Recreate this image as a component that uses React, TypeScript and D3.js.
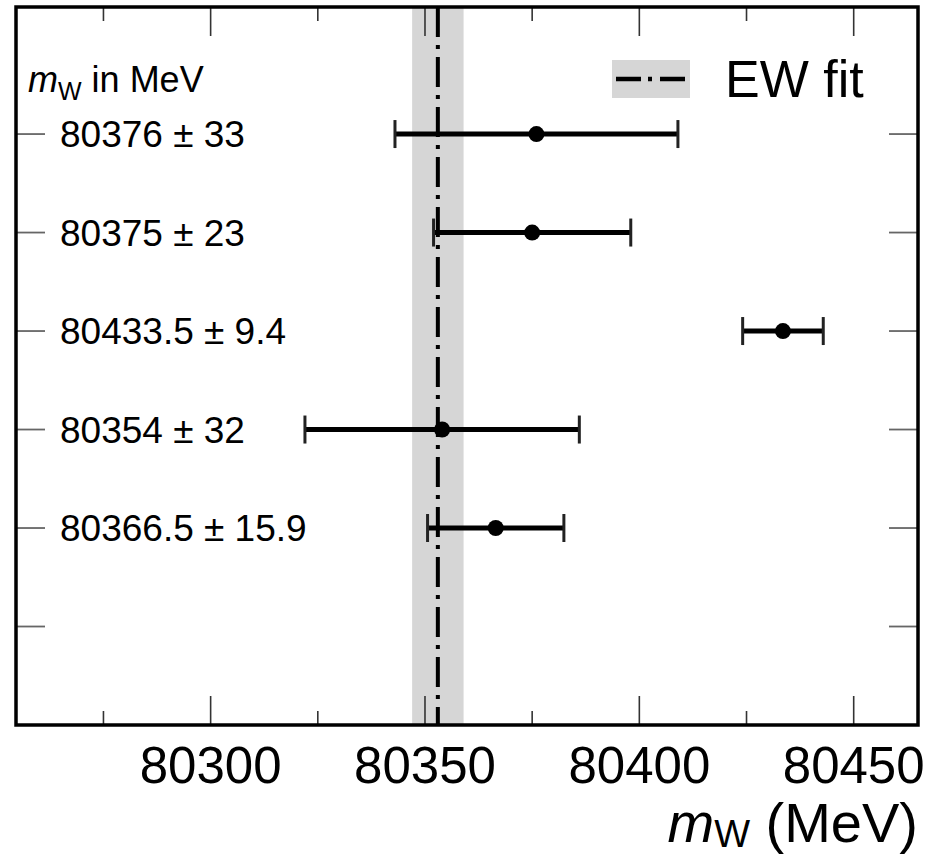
import React, { useEffect, useRef } from 'react';
import * as d3 from 'd3';

// measurements, top row first
const labels = ['80376 ± 33', '80375 ± 23', '80433.5 ± 9.4', '80354 ± 32', '80366.5 ± 15.9'];
const values = [80376, 80375, 80433.5, 80354, 80366.5];
const errors = [33, 23, 9.4, 32, 15.9];
const rows = [6, 5, 4, 3, 2];
const rowTicks = [1, 2, 3, 4, 5, 6];

const ewFit = 80353;
const ewErr = 6;

const majorTicks = [80300, 80350, 80400, 80450];
const minorTicks = [80275, 80325, 80375, 80425];

const FONT = '"Liberation Sans", Arial, Helvetica, sans-serif';

const App: React.FC = () => {
  const ref = useRef<SVGSVGElement>(null);

  useEffect(() => {
    if (!ref.current) return;
    const svg = d3.select(ref.current);
    svg.selectAll('*').remove();

    const left = 16, right = 918, top = 7, bottom = 725;
    const x = d3.scaleLinear().domain([80254.6, 80465]).range([left, right]);
    const y = d3.scaleLinear().domain([0, 7.29]).range([bottom, top]);

    svg.append('rect').attr('width', 933).attr('height', 856).attr('fill', '#fff');

    // EW fit band
    svg.append('rect')
      .attr('x', x(ewFit - ewErr))
      .attr('y', top)
      .attr('width', x(ewFit + ewErr) - x(ewFit - ewErr))
      .attr('height', bottom - top)
      .attr('fill', '#d6d6d6');

    // ticks on all four sides
    const tickG = svg.append('g').attr('stroke', '#333').attr('stroke-width', 1.6);
    majorTicks.forEach(t => {
      tickG.append('line').attr('x1', x(t)).attr('x2', x(t)).attr('y1', bottom).attr('y2', bottom - 29);
      tickG.append('line').attr('x1', x(t)).attr('x2', x(t)).attr('y1', top).attr('y2', top + 29);
    });
    minorTicks.forEach(t => {
      tickG.append('line').attr('x1', x(t)).attr('x2', x(t)).attr('y1', bottom).attr('y2', bottom - 14);
      tickG.append('line').attr('x1', x(t)).attr('x2', x(t)).attr('y1', top).attr('y2', top + 14);
    });
    const yTickG = svg.append('g').attr('stroke', '#666').attr('stroke-width', 1.8);
    rowTicks.forEach(r => {
      yTickG.append('line').attr('x1', left).attr('x2', left + 29).attr('y1', y(r)).attr('y2', y(r));
      yTickG.append('line').attr('x1', right).attr('x2', right - 29).attr('y1', y(r)).attr('y2', y(r));
    });

    // EW fit central value
    svg.append('line')
      .attr('x1', x(ewFit)).attr('x2', x(ewFit))
      .attr('y1', top).attr('y2', bottom)
      .attr('stroke', '#000')
      .attr('stroke-width', 4)
      .attr('stroke-dasharray', '30 8 4 8');

    // error bars
    const bars = svg.append('g');
    values.forEach((v, i) => {
      const yy = y(rows[i]);
      const x0 = x(v - errors[i]);
      const x1 = x(v + errors[i]);
      bars.append('line').attr('x1', x0).attr('x2', x1).attr('y1', yy).attr('y2', yy)
        .attr('stroke', '#000').attr('stroke-width', 5);
      [x0, x1].forEach(cx => {
        bars.append('line').attr('x1', cx).attr('x2', cx).attr('y1', yy - 14).attr('y2', yy + 14)
          .attr('stroke', '#222').attr('stroke-width', 3);
      });
      bars.append('circle').attr('cx', x(v)).attr('cy', yy).attr('r', 8).attr('fill', '#000');
      svg.append('text')
        .attr('x', 60).attr('y', yy).attr('dy', '0.36em')
        .style('font-family', FONT).style('font-size', '37px')
        .text(labels[i]);
    });

    // frame
    svg.append('rect')
      .attr('x', left).attr('y', top)
      .attr('width', right - left).attr('height', bottom - top)
      .attr('fill', 'none').attr('stroke', '#000').attr('stroke-width', 3.5);

    // header label
    const hdr = svg.append('text').attr('x', 28).attr('y', 92)
      .style('font-family', FONT).style('font-size', '36px');
    hdr.append('tspan').style('font-style', 'italic').text('m');
    hdr.append('tspan').attr('dy', 8).style('font-size', '25px').text('W');
    hdr.append('tspan').attr('dy', -8).text(' in MeV');

    // legend
    svg.append('rect').attr('x', 612).attr('y', 60).attr('width', 78).attr('height', 38).attr('fill', '#d6d6d6');
    svg.append('line').attr('x1', 616).attr('x2', 686).attr('y1', 79).attr('y2', 79)
      .attr('stroke', '#000').attr('stroke-width', 4.5).attr('stroke-dasharray', '25 7 4 8');
    svg.append('text').attr('x', 725).attr('y', 97)
      .style('font-family', FONT).style('font-size', '52px').text('EW fit');

    // x tick labels
    majorTicks.forEach(t => {
      svg.append('text').attr('x', x(t)).attr('y', 783)
        .attr('text-anchor', 'middle')
        .style('font-family', FONT).style('font-size', '51px')
        .text(String(t));
    });

    // axis title
    const ttl = svg.append('text').attr('x', right).attr('y', 842).attr('text-anchor', 'end')
      .style('font-family', FONT).style('font-size', '56px');
    ttl.append('tspan').style('font-style', 'italic').text('m');
    ttl.append('tspan').attr('dy', 5).style('font-size', '38px').text('W');
    ttl.append('tspan').attr('dy', -5).text(' (MeV)');
  }, []);

  return (
    <svg ref={ref} width={933} height={856}
      style={{ position: 'absolute', left: 0, top: 0, display: 'block' }} />
  );
};

export default App;
